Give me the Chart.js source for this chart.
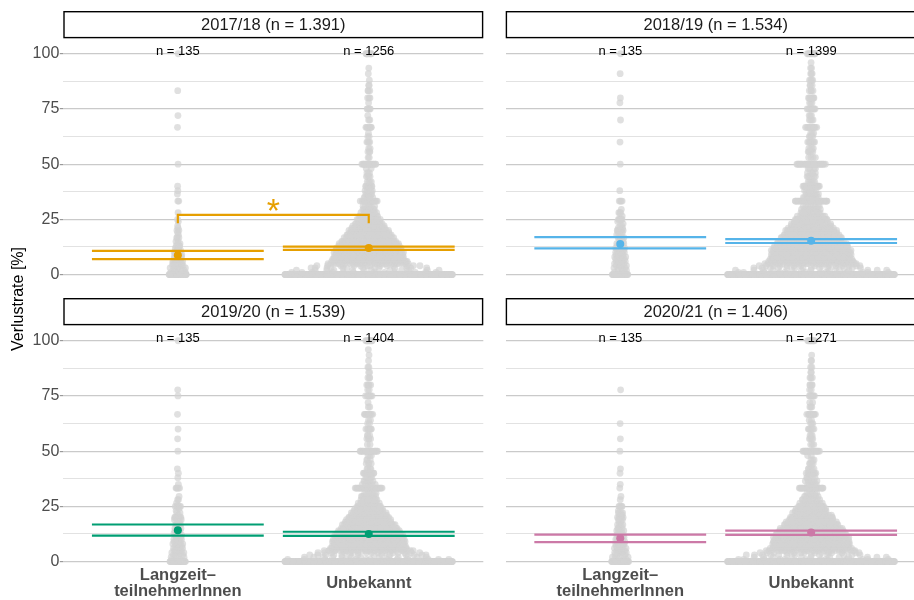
<!DOCTYPE html>
<html>
<head>
<meta charset="utf-8">
<script src="https://cdn.jsdelivr.net/npm/chart.js@4.4.1/dist/chart.umd.min.js"></script>
<style>
  html, body { margin: 0; padding: 0; background: #fff; overflow: hidden; width: 914px; height: 600px; }
  canvas { position: absolute; left: 0; top: 0; }
</style>
</head>
<body>
<canvas id="panel0" width="940" height="600"></canvas>
<canvas id="panel1" width="940" height="600"></canvas>
<canvas id="panel2" width="940" height="600"></canvas>
<canvas id="panel3" width="940" height="600"></canvas>
<script>
// ---- data -------------------------------------------------------------
const seasons = ['2017/18', '2018/19', '2019/20', '2020/21'];
const groupLabels = [['Langzeit–', 'teilnehmerInnen'], 'Unbekannt'];
const facetColors = ['#E69F00', '#56B4E9', '#009E73', '#CC79A7'];

// loss-rate levels (%) used by the count arrays below
const rateLevels = [0, 1, 2, 3, 4, 5, 6, 7, 8, 9, 10, 11, 12, 13, 14, 15, 16.7, 18, 19, 20,
  21, 22, 23, 24, 25, 26.5, 28, 29.5, 31, 33.3, 35, 36.5, 38, 40, 42, 44.4, 46, 48, 50,
  53, 55.6, 57.1, 60, 62.5, 64, 66.7, 70, 72, 75, 77.8, 80, 83.3, 85.7, 88, 91, 93.5, 96, 100];

// number of companies per loss-rate level
const langzeit1718 = [54,3,4,5,5,5, 5,5,5,4,5, 3,3,3,2,2, 3,1,1,2, 1,1,0,1,1, 0,1,0,0, 2,0,1,1,1, 0,0,0,0,1, 0,0,0,0,0,0,1, 0,1,0,0,0, 1,0,0,0,0,0,1];
const unbekannt1718 = [527,12,12,13,14,28, 33,34,34,34,36, 33,32,31,29,28, 40,22,20,22, 14,14,12,11,16, 13,9,8,6, 18,6,5,5,8, 4,4,3,2,16, 2,3,2,4,2,1,7, 2,1,5,1,3, 3,2,1,1,1,0,7];
const langzeit1819 = [34,2,3,4,4,4, 4,4,5,4,5, 4,4,4,3,3, 4,2,2,7, 2,2,1,1,6, 1,3,1,0, 4,0,0,1,0, 0,0,0,0,1, 0,0,0,1,0,0,0, 1,0,0,1,1, 0,0,0,1,0,0,1];
const unbekannt1819 = [487,12,13,14,15,30, 36,37,37,37,40, 36,35,34,32,31, 46,24,22,33, 16,16,14,13,29, 14,11,10,8, 34,8,7,7,18, 6,6,5,4,30, 4,5,4,8,4,3,12, 4,3,9,3,7, 4,3,4,3,2,1,9];
const langzeit1920 = [35,2,3,4,4,4, 4,4,4,4,4, 3,4,3,3,3, 4,2,2,8, 1,2,1,1,6, 1,2,1,0, 5,1,0,1,1, 1,0,0,0,1, 0,1,0,1,0,0,1, 0,0,1,1,0, 0,0,0,0,0,0,1];
const unbekannt1920 = [564,13,13,14,15,31, 37,38,38,38,40, 37,36,34,32,31, 44,24,22,28, 16,15,13,12,22, 14,10,9,7, 30,6,5,5,12, 4,4,3,3,20, 2,4,3,7,2,2,10, 2,1,7,2,5, 3,2,2,1,1,1,8];
const langzeit2021 = [42,3,3,4,4,5, 5,4,5,4,5, 3,4,3,3,3, 4,2,2,6, 1,4,1,0,5, 0,1,1,0, 1,1,0,0,1, 1,0,0,0,1, 0,1,0,0,1,0,0, 0,0,0,1,0, 0,0,0,0,0,0,0];
const unbekannt2021 = [487,12,12,13,14,29, 34,35,35,35,37, 34,33,32,30,29, 42,22,20,24, 14,14,12,11,23, 12,9,8,6, 26,6,5,5,11, 5,4,3,2,19, 3,4,3,6,3,2,10, 3,2,7,2,4, 3,2,2,2,1,0,8];

// group means with confidence limits (%)
const meanLangzeit   = [8.8, 13.9, 14.2, 10.6];
const ciLowLangzeit  = [7.0, 11.9, 11.8, 8.8];
const ciHighLangzeit = [10.7, 17.0, 16.8, 12.2];
const meanUnbekannt   = [12.0, 15.3, 12.5, 13.2];
const ciLowUnbekannt  = [11.2, 14.3, 11.6, 12.1];
const ciHighUnbekannt = [12.7, 16.1, 13.5, 14.0];

// significance marker between the two groups, bracket heights in %
const sigMarks = ['*', '', '', ''];
const bracketTop = 27.0;
const bracketFoot = 23.2;

const yMajorTicks = [0, 25, 50, 75, 100];
const yMinorTicks = [12.5, 37.5, 62.5, 87.5];

const countsLangzeit = [langzeit1718, langzeit1819, langzeit1920, langzeit2021];
const countsUnbekannt = [unbekannt1718, unbekannt1819, unbekannt1920, unbekannt2021];

// ---- layout -----------------------------------------------------------
const FONT = '"Liberation Sans", Arial, Helvetica, sans-serif';
const CANVAS_W = 940, CANVAS_H = 600;
const Y_MIN = -2, Y_MAX = 107, X_MIN = 0.4, X_MAX = 2.6;
const PANEL_W = 420, PANEL_H = 240.7;
const COL_LEFT = [63.3, 505.7], ROW_TOP = [38.3, 325.3];
const Y_AXIS_W = 40, X_AXIS_H = 34;
const STRIP_H = 27.3;
const HALF_WIDTH = 0.44;     // max horizontal spread of the point clouds (x units)
const BANDWIDTH = 3;         // kernel bandwidth for the spread profile (%)
const TIE_SPREAD = 0.0025;   // extra half-spread per tied point (x units)
const CI_HALF = 0.45;

Chart.defaults.font.family = FONT;

const sum = a => a.reduce((s, v) => s + v, 0);
const fmtDE = n => String(n).replace(/\B(?=(\d{3})+(?!\d))/g, '.');

function vanDerCorput(i) {
  let r = 0, f = 0.5;
  while (i > 0) { if (i & 1) r += f; i >>= 1; f /= 2; }
  return r;
}

// quasirandom horizontal offsets: spread follows the local density,
// rows of tied values get at least a spread proportional to their size
function spreadPoints(counts, center, halfWidth) {
  const dens = v => counts.reduce((s, c, j) =>
    c ? s + c * Math.exp(-0.5 * Math.pow((v - rateLevels[j]) / BANDWIDTH, 2)) : s, 0);
  let fmax = 0;
  for (let v = -5; v <= 105; v += 0.25) fmax = Math.max(fmax, dens(v));
  rateLevels.forEach(v => { fmax = Math.max(fmax, dens(v)); });
  const pts = [];
  let rank = 1;
  counts.forEach((c, j) => {
    const w = Math.max(halfWidth * dens(rateLevels[j]) / fmax, Math.min(halfWidth, c * TIE_SPREAD));
    for (let k = 0; k < c; k++) {
      pts.push({ x: center + (vanDerCorput(rank) - 0.5) * 2 * w, y: rateLevels[j] });
      rank++;
    }
  });
  return pts;
}

const panelDecor = {
  id: 'panelDecor',
  afterDatasetsDraw(chart, args, o) {
    const { ctx, chartArea: a, scales: { x, y } } = chart;
    ctx.save();
    // group sizes above the 100 % line
    ctx.font = '13px ' + FONT;
    ctx.fillStyle = '#000';
    ctx.textAlign = 'center';
    ctx.textBaseline = 'alphabetic';
    o.groupN.forEach((n, i) => {
      ctx.fillText('n = ' + n, x.getPixelForValue(i + 1), y.getPixelForValue(100) + 1.5);
    });
    // significance star
    if (o.sig) {
      ctx.font = '34px ' + FONT;
      ctx.fillStyle = o.color;
      ctx.textAlign = 'left';
      const m = ctx.measureText(o.sig);
      const cx = x.getPixelForValue(1.5), cy = y.getPixelForValue(bracketTop) - 9.5;
      ctx.fillText(o.sig,
        cx - (m.actualBoundingBoxRight - m.actualBoundingBoxLeft) / 2,
        cy + (m.actualBoundingBoxAscent - m.actualBoundingBoxDescent) / 2);
    }
    // facet strip
    ctx.fillStyle = '#fff';
    ctx.fillRect(a.left, a.top - STRIP_H, a.right - a.left, STRIP_H);
    ctx.lineWidth = 1.4;
    ctx.strokeStyle = '#000';
    ctx.strokeRect(a.left + 0.7, a.top - STRIP_H + 0.7, a.right - a.left - 1.4, STRIP_H - 1.4);
    ctx.font = '16.5px ' + FONT;
    ctx.fillStyle = '#1a1a1a';
    ctx.textAlign = 'center';
    ctx.textBaseline = 'middle';
    ctx.fillText(o.title, (a.left + a.right) / 2, a.top - STRIP_H / 2 + 0.8);
    // shared y axis title
    if (o.yTitle) {
      ctx.translate(19, 299);
      ctx.rotate(-Math.PI / 2);
      ctx.font = '16px ' + FONT;
      ctx.fillStyle = '#000';
      ctx.fillText(o.yTitle, 0, 0);
    }
    ctx.restore();
  }
};

seasons.forEach((season, i) => {
  const row = Math.floor(i / 2), col = i % 2;
  const isLeft = col === 0, isBottom = row === 1;
  const color = facetColors[i];
  const nL = sum(countsLangzeit[i]), nU = sum(countsUnbekannt[i]);
  const nMax = Math.max(nL, nU);

  const points = spreadPoints(countsLangzeit[i], 1, HALF_WIDTH * nL / nMax)
    .concat(spreadPoints(countsUnbekannt[i], 2, HALF_WIDTH * nU / nMax));

  const hLine = (cx, v) => ({
    type: 'line',
    data: [{ x: cx - CI_HALF, y: v }, { x: cx + CI_HALF, y: v }],
    borderColor: color, borderWidth: 2.2, pointRadius: 0, fill: false,
    borderCapStyle: 'butt', order: 2
  });

  const datasets = [
    {
      type: 'scatter', data: points, order: 5,
      pointRadius: 3.4, pointBackgroundColor: 'rgba(211,211,211,0.7)', pointBorderWidth: 0
    },
    hLine(1, ciLowLangzeit[i]), hLine(1, ciHighLangzeit[i]),
    hLine(2, ciLowUnbekannt[i]), hLine(2, ciHighUnbekannt[i]),
    {
      type: 'scatter', order: 0,
      data: [{ x: 1, y: meanLangzeit[i] }, { x: 2, y: meanUnbekannt[i] }],
      pointRadius: 4, pointBackgroundColor: color, pointBorderWidth: 0
    }
  ];
  if (sigMarks[i]) {
    datasets.push({
      type: 'line', order: 1,
      data: [{ x: 1, y: bracketFoot }, { x: 1, y: bracketTop }, { x: 2, y: bracketTop }, { x: 2, y: bracketFoot }],
      borderColor: color, borderWidth: 2.2, pointRadius: 0, fill: false,
      borderJoinStyle: 'miter', borderCapStyle: 'butt'
    });
  }

  const isMajor = v => yMajorTicks.includes(v);
  const yTicks = yMajorTicks.concat(yMinorTicks).sort((a, b) => a - b);
  const bottomEdge = ROW_TOP[row] + PANEL_H;

  new Chart(document.getElementById('panel' + i), {
    type: 'scatter',
    data: { datasets },
    options: {
      responsive: false,
      animation: false,
      events: [],
      layout: {
        padding: {
          left: COL_LEFT[col] - (isLeft ? Y_AXIS_W : 0),
          right: CANVAS_W - COL_LEFT[col] - PANEL_W,
          top: ROW_TOP[row],
          bottom: CANVAS_H - bottomEdge - (isBottom ? X_AXIS_H : 0)
        }
      },
      plugins: {
        legend: { display: false },
        tooltip: { enabled: false },
        panelDecor: {
          title: season + ' (n = ' + fmtDE(nL + nU) + ')',
          groupN: [nL, nU],
          sig: sigMarks[i],
          color,
          yTitle: i === 0 ? 'Verlustrate [%]' : ''
        }
      },
      scales: {
        x: {
          type: 'linear', min: X_MIN, max: X_MAX,
          display: isBottom,
          grid: { display: false, drawTicks: false },
          border: { display: false },
          afterBuildTicks: s => { s.ticks = [{ value: 1 }, { value: 2 }]; },
          afterFit: s => { s.height = isBottom ? X_AXIS_H : 0; },
          ticks: {
            callback: v => groupLabels[Math.round(v) - 1],
            font: { family: FONT, size: 16.5, weight: 'bold', lineHeight: 1 },
            color: '#4d4d4d', padding: 9, maxRotation: 0, autoSkip: false,
            crossAlign: 'center'
          }
        },
        y: {
          type: 'linear', min: Y_MIN, max: Y_MAX,
          afterBuildTicks: s => { s.ticks = yTicks.map(v => ({ value: v })); },
          afterFit: s => { s.width = isLeft ? Y_AXIS_W : 0; },
          border: { display: false },
          grid: {
            color: c => (c.tick && isMajor(c.tick.value)) ? '#cacaca' : '#e2e2e2',
            lineWidth: c => (c.tick && isMajor(c.tick.value)) ? 1.2 : 1,
            drawTicks: isLeft,
            tickLength: 3.5,
            tickColor: c => (c.tick && isMajor(c.tick.value)) ? '#9a9a9a' : 'rgba(0,0,0,0)'
          },
          ticks: {
            display: isLeft,
            callback: v => isMajor(v) ? String(v) : '',
            font: { family: FONT, size: 16 },
            color: '#4d4d4d',
            padding: 0.5
          }
        }
      }
    },
    plugins: [panelDecor]
  });
});
</script>
</body>
</html>
